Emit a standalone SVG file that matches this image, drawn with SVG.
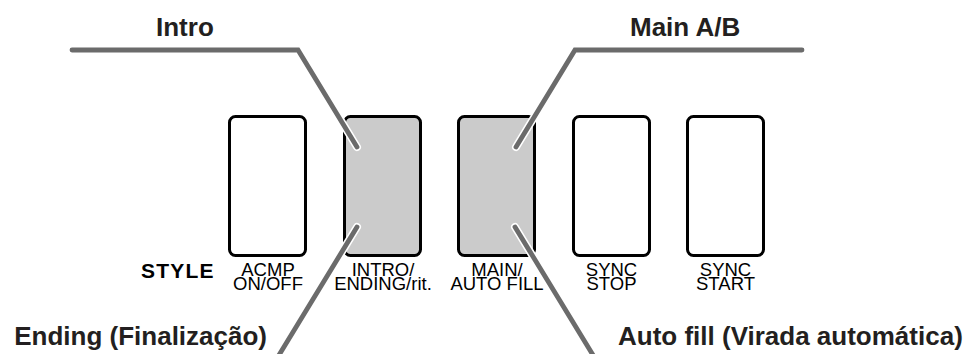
<svg xmlns="http://www.w3.org/2000/svg" width="971" height="354" viewBox="0 0 971 354">
<style>
.btn{stroke:#000;stroke-width:3;fill:#fff}
.sel{fill:#cbcbcb}
.lbl{font-family:"Liberation Sans",Arial,sans-serif;font-size:18.5px;fill:#000;text-anchor:middle}
.ttl{font-family:"Liberation Sans",Arial,sans-serif;font-size:26px;font-weight:bold;fill:#231f20}
.halo{fill:none;stroke:#fff;stroke-width:8;stroke-linecap:round;stroke-linejoin:miter}
.ln{fill:none;stroke:#6b6b6b;stroke-width:4.8;stroke-linecap:round;stroke-linejoin:miter}
</style>
<rect width="971" height="354" fill="#fff"/>
<g id="acmp">
<rect class="btn" x="229.5" y="116.5" width="76" height="139" rx="6"/>
<text class="lbl"><tspan x="268" y="276">ACMP</tspan><tspan x="268" y="290">ON/OFF</tspan></text>
</g>
<g id="intro-ending">
<rect class="btn sel" x="344.5" y="116.5" width="76" height="139" rx="6"/>
<text class="lbl"><tspan x="383" y="276">INTRO/</tspan><tspan x="383" y="290">ENDING/rit.</tspan></text>
</g>
<g id="main-autofill">
<rect class="btn sel" x="458.5" y="116.5" width="76" height="139" rx="6"/>
<text class="lbl"><tspan x="497" y="276">MAIN/</tspan><tspan x="497" y="290">AUTO FILL</tspan></text>
</g>
<g id="sync-stop">
<rect class="btn" x="573.5" y="116.5" width="76" height="139" rx="6"/>
<text class="lbl"><tspan x="611.5" y="276">SYNC</tspan><tspan x="611.5" y="290">STOP</tspan></text>
</g>
<g id="sync-start">
<rect class="btn" x="687.5" y="116.5" width="76" height="139" rx="6"/>
<text class="lbl"><tspan x="725.5" y="276">SYNC</tspan><tspan x="725.5" y="290">START</tspan></text>
</g>
<g id="style-label">
<text x="141" y="278" style="font-family:'Liberation Sans',Arial,sans-serif;font-size:21px;font-weight:bold;letter-spacing:1.2px;fill:#000">STYLE</text>
</g>
<g id="connectors">
<path class="halo" d="M72,50 H298 L357,147"/>
<path class="halo" d="M802,50 H575 L516,147"/>
<path class="halo" d="M357,227 L276,360"/>
<path class="halo" d="M515,227 L596,360"/>
<path class="ln" d="M72,50 H298 L357,147"/>
<path class="ln" d="M802,50 H575 L516,147"/>
<path class="ln" d="M357,227 L276,360"/>
<path class="ln" d="M515,227 L596,360"/>
</g>
<g id="intro-title"><text class="ttl" x="156" y="36">Intro</text></g>
<g id="main-title"><text class="ttl" x="630" y="36">Main A/B</text></g>
<g id="ending-title"><text class="ttl" x="267" y="345" text-anchor="end">Ending (Finalização)</text></g>
<g id="autofill-title"><text class="ttl" x="618" y="345">Auto fill (Virada automática)</text></g>
</svg>
